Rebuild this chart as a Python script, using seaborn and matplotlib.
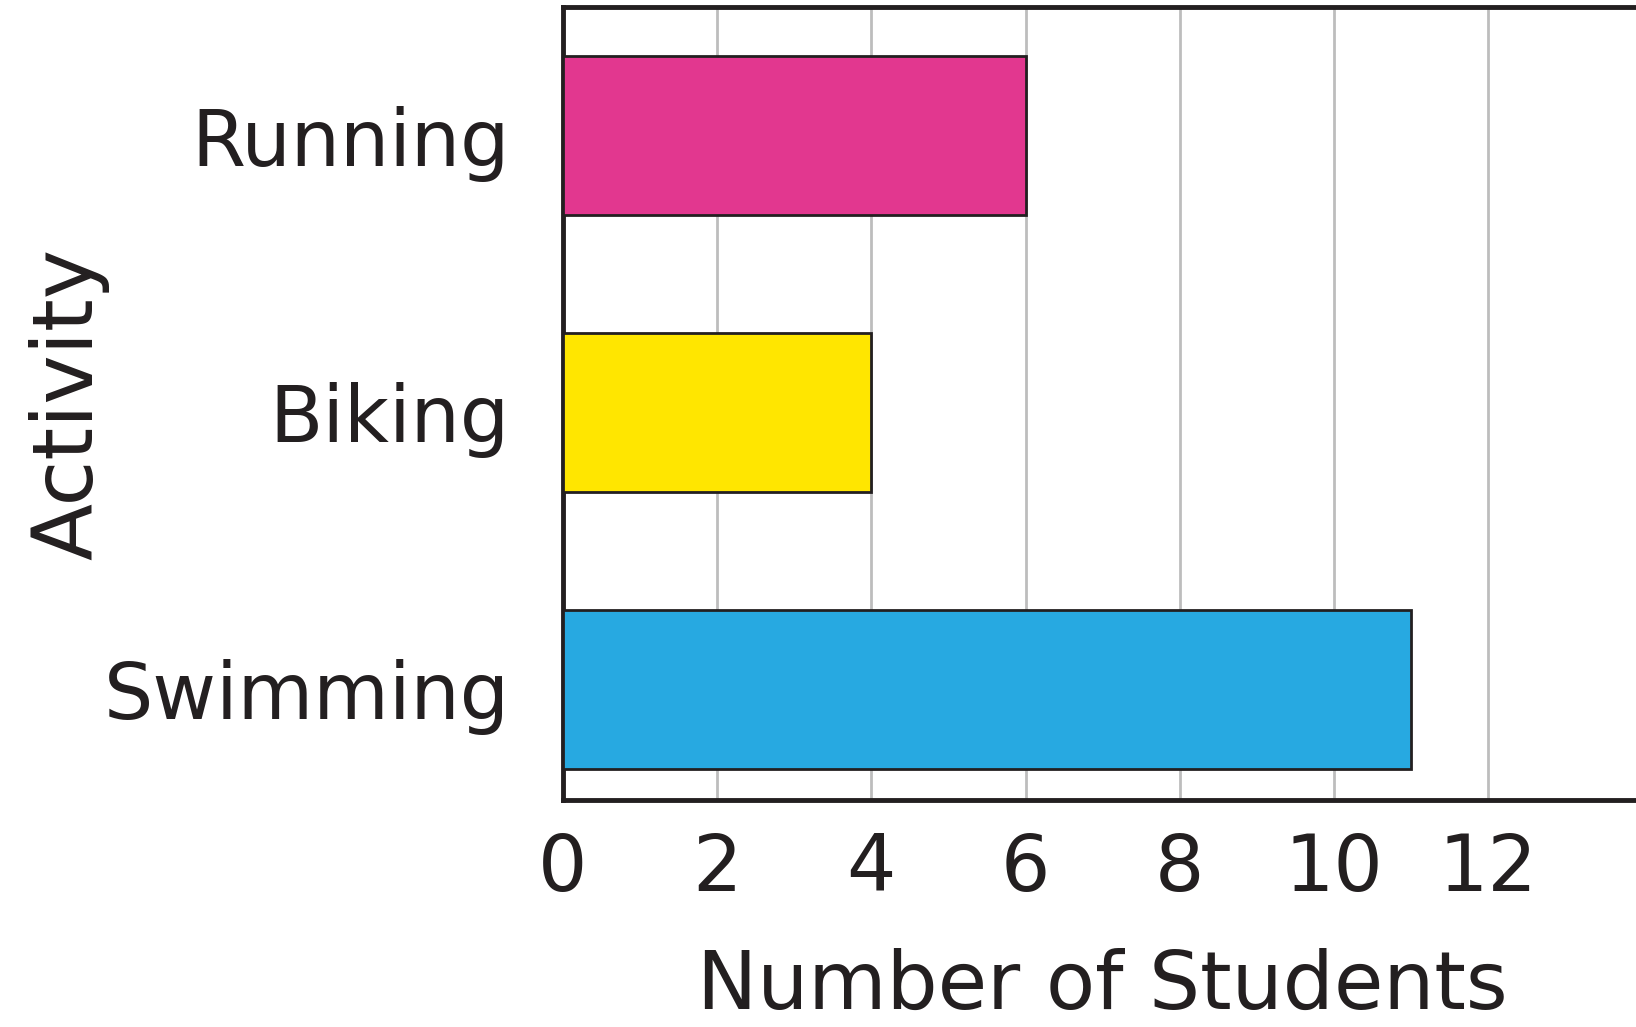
import matplotlib
matplotlib.use("Agg")
import matplotlib.pyplot as plt
import seaborn as sns
import pandas as pd

# chart data
activities = ["Running", "Biking", "Swimming"]
students = [6, 4, 11]
bar_colors = ["#E2378F", "#FFE600", "#27A9E1"]
x_ticks = [0, 2, 4, 6, 8, 10, 12]

df = pd.DataFrame({"Activity": activities, "Students": students})

sns.set_style("white")
plt.rcParams["font.family"] = ["DejaVu Sans"]

fig = plt.figure(figsize=(16.36, 10.27), dpi=100)
ax = fig.add_axes([0.344, 0.221, 0.66, 0.772])

sns.barplot(data=df, x="Students", y="Activity", hue="Activity",
            palette=bar_colors, orient="h", width=0.575, legend=False,
            saturation=1, edgecolor="#231F20", linewidth=2, ax=ax, zorder=3)

ax.set_xlim(0, 14)
ax.set_ylim(2.40, -0.464)
ax.set_xticks(x_ticks)
ax.set_xticklabels([str(t) for t in x_ticks])
ax.xaxis.grid(True, color="#BDBDBD", linewidth=2, zorder=0)
ax.yaxis.grid(False)
ax.set_axisbelow(True)

for side in ["left", "bottom", "top", "right"]:
    ax.spines[side].set_color("#231F20")
    ax.spines[side].set_linewidth(3.5)

ax.tick_params(axis="x", length=0, pad=22, labelsize=56, colors="#231F20")
ax.tick_params(axis="y", length=0, pad=38, labelsize=56, colors="#231F20")

ax.set_xlabel("Number of Students", fontsize=58, color="#231F20", labelpad=30)
ax.set_ylabel("Activity", fontsize=60, color="#231F20")
ax.yaxis.set_label_coords(-0.42, 0.5)

fig.savefig("out.png", dpi=100)
